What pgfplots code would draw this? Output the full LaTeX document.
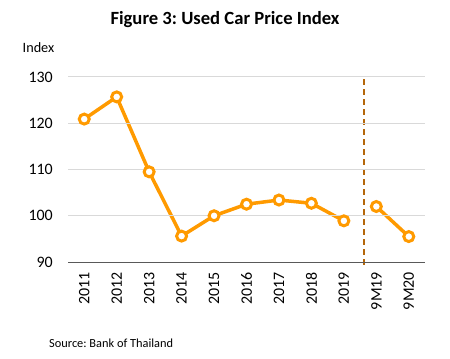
\documentclass[border=0pt]{standalone}
\usepackage{fontspec}
\setmainfont{Carlito}
\usepackage{pgfplots}
\pgfplotsset{compat=1.18}
\definecolor{lineor}{HTML}{FF9A00}
\definecolor{dashbr}{HTML}{B5670A}
\definecolor{gridc}{HTML}{D9D9D9}
\definecolor{axc}{HTML}{595959}
\frenchspacing
\begin{document}
\begin{tikzpicture}[x=1bp,y=1bp]
\path[use as bounding box] (0,0) rectangle (450,358);
\begin{axis}[
  at={(68bp,96bp)}, anchor=south west,
  scale only axis, width=357bp, height=185bp,
  xmin=-0.5, xmax=10.5, ymin=90, ymax=130,
  ytick={90,100,110,120,130},
  xtick={0,...,10},
  xticklabels={2011,2012,2013,2014,2015,2016,2017,2018,2019,9M19,9M20},
  /pgf/number format/assume math mode=true,
  axis x line*=bottom, axis y line*=left,
  y axis line style={draw=none},
  x axis line style={draw=axc, line width=1bp, -},
  major tick length=0pt,
  ymajorgrids, grid style={gridc, line width=1bp},
  x tick label style={rotate=90, anchor=east, inner sep=0pt, font=\fontsize{16}{18}\selectfont},
  y tick label style={inner sep=0pt, font=\fontsize{16}{18}\selectfont},
  xticklabel shift=10bp, yticklabel shift=15bp,
  clip=false,
  axis on top,
]
\addplot[dashbr, line width=2bp, dash pattern=on 6bp off 4bp] coordinates {(8.62,89.4) (8.62,130)};
\addplot[lineor, line width=3.5bp, mark=*, mark size=5bp,
  mark options={fill=white, draw=lineor, line width=3bp}]
  coordinates {(0,120.9) (1,125.7) (2,109.5) (3,95.6) (4,100.0) (5,102.5) (6,103.4) (7,102.7) (8,98.9)};
\addplot[lineor, line width=3.5bp, mark=*, mark size=5bp,
  mark options={fill=white, draw=lineor, line width=3bp}]
  coordinates {(9,102.0) (10,95.5)};
\end{axis}
\node[anchor=base, font=\bfseries\fontsize{18.7}{22}\selectfont] at (225,334) {Figure 3: Used Car Price Index};
\node[anchor=base, inner sep=0pt, font=\fontsize{14.3}{16}\selectfont] at (38.5,306) {Index};
\node[anchor=base west, inner sep=0pt, font=\fontsize{12.4}{14}\selectfont] at (49,11) {Source: Bank of Thailand};
\end{tikzpicture}
\end{document}
